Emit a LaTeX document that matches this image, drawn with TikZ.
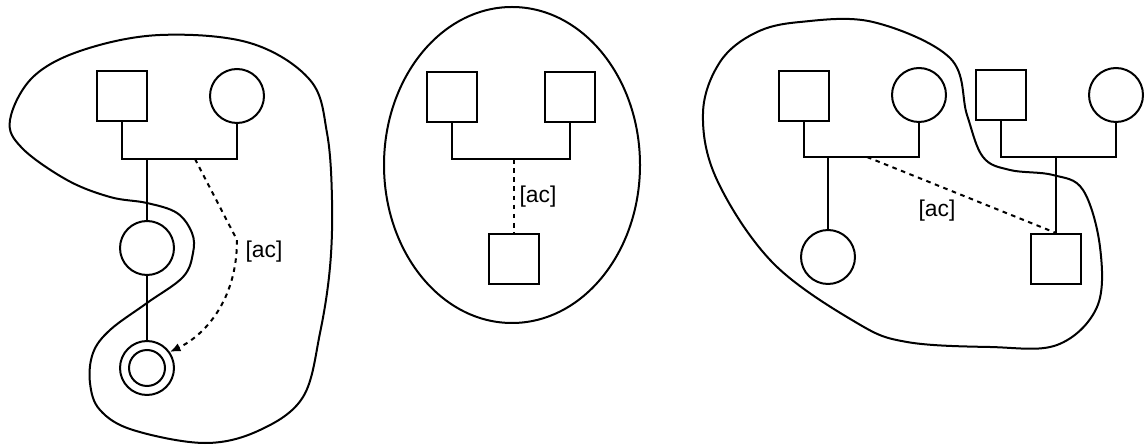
\documentclass[tikz,border=0pt]{standalone}
\usepackage{fontspec}
\setmainfont{Liberation Sans}
\usepackage{tikz}
\usetikzlibrary{arrows.meta}

\begin{document}
\begin{tikzpicture}[>={Latex[length=6pt, width=5pt]}, x=0.02cm, y=-0.02cm, line width=0.04cm,
	varon/.style={draw, rectangle, minimum size=1cm, inner sep=0pt},
	mujer/.style={draw, circle, minimum size=1.08cm, inner sep=0pt},
	interior/.style={draw, circle, minimum size=0.72cm, inner sep=0pt},
	lazo/.style={dash pattern=on 2.6pt off 2.6pt},
	etiq/.style={font=\fontsize{13}{15}\selectfont, inner sep=0pt}]

	% Marco de la figura
	\useasboundingbox (0,0) rectangle (1145,445);

	% ---------------------------------------------------------
	% Primer grupo (contorno en S)
	% ---------------------------------------------------------

	% Contorno
	\draw plot[smooth cycle, tension=0.6] coordinates {(160,35) (250,43) (310,80) (327,133) (332,200) (330,267) (320,333) (303,397) (260,430) (205,443) (133,430) (100,410) (90,383) (93,353) (110,330) (147,303) (183,277) (193,253) (192,233) (177,213) (147,203) (110,197) (67,180) (22,148) (10,120) (33,77) (83,50)};

	% Padres
	\node[varon] (pa1) at (122,96) {};
	\node[mujer] (ma1) at (237,96) {};
	\coordinate (j1) at (147,159);
	\coordinate (d1) at (195,159);
	\draw (pa1.south) |- (j1) -| (ma1.south);

	% Hija y nieta (circulo doble)
	\node[mujer] (hi1) at (147,248) {};
	\node[mujer] (hi2) at (147,368) {};
	\node[interior] (hi2in) at (hi2) {};
	\draw (j1) -- (hi1.north);
	\draw (hi1.south) -- (hi2.north);

	% Relacion [ac] (flecha discontinua)
	\coordinate (k1) at (237,240);
	\draw[lazo, ->] (d1) -- (k1) .. controls (237,300) and (205,335) .. (hi2.35);
	\node[etiq] (ac1) at (264,252) {[ac]};

	% ---------------------------------------------------------
	% Segundo grupo (elipse)
	% ---------------------------------------------------------

	% Contorno
	\draw (512,165) ellipse [x radius=128, y radius=158];

	% Padres e hijo
	\node[varon] (pa2) at (452,97) {};
	\node[varon] (pa3) at (570,97) {};
	\node[varon] (hi3) at (514,259) {};
	\coordinate (j2) at (514,159);
	\draw (pa2.south) |- (j2) -| (pa3.south);

	% Relacion [ac]
	\draw[lazo] (j2) -- (hi3.north);
	\node[etiq] (ac2) at (538,197) {[ac]};

	% ---------------------------------------------------------
	% Tercer grupo (dos familias)
	% ---------------------------------------------------------

	% Contorno
	\draw plot[smooth cycle, tension=0.6] coordinates {(800,22) (873,22) (950,58) (967,115) (983,157) (1010,170) (1053,175) (1083,190) (1100,247) (1097,307) (1057,345) (990,347) (907,342) (857,323) (773,263) (717,180) (703,113) (720,62) (755,33)};

	% Familia izquierda
	\node[varon] (pa4) at (804,96) {};
	\node[mujer] (ma4) at (919,95) {};
	\node[mujer] (hi4) at (828,257) {};
	\coordinate (j3) at (828,157);
	\coordinate (d3) at (867,157);
	\draw (pa4.south) |- (j3) -| (ma4.south);
	\draw (j3) -- (hi4.north);

	% Familia derecha
	\node[varon] (pa5) at (1001,95) {};
	\node[mujer] (ma5) at (1116,95) {};
	\node[varon] (hi5) at (1056,259) {};
	\coordinate (j4) at (1056,157);
	\draw (pa5.south) |- (j4) -| (ma5.south);
	\draw (j4) -- (hi5.north);

	% Relacion [ac]
	\draw[lazo] (d3) -- (hi5.north);
	\node[etiq] (ac3) at (937,211) {[ac]};

\end{tikzpicture}
\end{document}
